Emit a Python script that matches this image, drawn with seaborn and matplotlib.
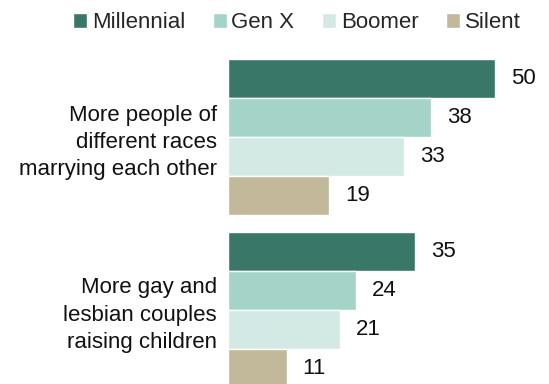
import numpy as np
import pandas as pd
import matplotlib
matplotlib.use("Agg")
import matplotlib.pyplot as plt
import seaborn as sns

# data
categories = [
    "More people of\ndifferent races\nmarrying each other",
    "More gay and\nlesbian couples\nraising children",
]
generations = ["Millennial", "Gen X", "Boomer", "Silent"]
millennial = [50, 35]
gen_x = [38, 24]
boomer = [33, 21]
silent = [19, 11]
colors = ["#397868", "#a4d4c8", "#d3e9e4", "#c2b99b"]


def main():
    rows = []
    for gen, vals in zip(generations, [millennial, gen_x, boomer, silent]):
        for cat, v in zip(categories, vals):
            rows.append({"category": cat, "generation": gen, "value": v})
    df = pd.DataFrame(rows)

    sns.set_theme(style="white")
    plt.rcParams["font.family"] = ["Liberation Sans", "DejaVu Sans"]

    fig = plt.figure(figsize=(5.49, 3.84), dpi=100)
    W, H = 549, 384
    # axes placed in pixels: bars start at x=228, plot area from y=50 down to bottom
    ax = fig.add_axes([228 / W, 0, (W - 228) / W, (H - 50) / H])

    sns.barplot(data=df, x="value", y="category", hue="generation",
                order=categories, hue_order=generations, palette=colors,
                orient="h", width=0.9, gap=0, saturation=1, ax=ax)

    ax.set_xlim(0, (W - 228) / 5.34)
    ax.set_ylim(1.43, -0.502)

    for cont in ax.containers:
        ax.bar_label(cont, fmt="%d", padding=11.5, fontsize=16, color="#111111")

    ax.set_xlabel("")
    ax.set_ylabel("")
    ax.set_xticks([])
    ax.tick_params(axis="y", length=0, pad=8, labelsize=16, labelcolor="#111111")
    for t in ax.get_yticklabels():
        t.set_linespacing(1.4)
    for s in ax.spines.values():
        s.set_visible(False)

    sns.move_legend(ax, "center", bbox_to_anchor=(297 / W, 1 - 23 / H),
                    bbox_transform=fig.transFigure, ncol=4, frameon=False,
                    title=None, fontsize=16, handlelength=0.62, handleheight=0.62,
                    handletextpad=0.22, columnspacing=1.25, borderpad=0,
                    borderaxespad=0)

    fig.savefig("out.png", dpi=100)


if __name__ == "__main__":
    main()
